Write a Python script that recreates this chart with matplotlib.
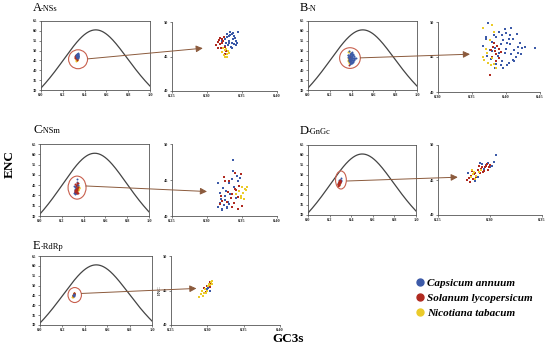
import numpy as np
import matplotlib
matplotlib.use("Agg")
import matplotlib.pyplot as plt
from matplotlib.patches import Ellipse, ConnectionPatch
from matplotlib.lines import Line2D

SERIF = ["Liberation Serif", "DejaVu Serif"]

species = ["Capsicum annuum", "Solanum lycopersicum", "Nicotiana tabacum"]
colors = ["#3C5AA8", "#B02A20", "#EBCB2A"]

panel_titles = ["A", "B", "C", "D", "E"]
panel_genes = ["-NSs", "-N", "-NSm", "-GnGc", "-RdRp"]

# ---- GC3s / ENC values per panel per species ----
A_cap_x = [0.322, 0.325, 0.327, 0.329, 0.331, 0.333, 0.335, 0.337, 0.339, 0.341, 0.343, 0.326,
           0.330, 0.334, 0.338, 0.342, 0.328, 0.332, 0.336, 0.340, 0.331, 0.335, 0.333, 0.337, 0.344]
A_cap_y = [47.2, 47.6, 46.9, 47.8, 47.3, 48.1, 47.0, 47.5, 46.8, 47.2, 47.0, 46.5,
           46.6, 46.4, 47.9, 46.6, 48.3, 46.9, 48.2, 47.7, 47.9, 46.3, 48.5, 48.4, 48.6]
A_sol_x = [0.313, 0.315, 0.317, 0.319, 0.321, 0.323, 0.325, 0.316, 0.320, 0.324, 0.318, 0.322, 0.327, 0.326]
A_sol_y = [46.6, 47.1, 47.4, 46.8, 47.6, 47.2, 46.4, 46.2, 46.3, 47.8, 47.7, 46.9, 45.8, 45.4]
A_nic_x = [0.322, 0.324, 0.326, 0.328, 0.330, 0.325, 0.327, 0.329, 0.331, 0.323]
A_nic_y = [45.6, 45.2, 45.9, 45.4, 45.8, 44.9, 46.1, 45.0, 45.5, 46.2]

B_cap_x = [0.366, 0.370, 0.372, 0.376, 0.378, 0.380, 0.382, 0.384, 0.386, 0.388, 0.390, 0.392,
           0.394, 0.396, 0.398, 0.400, 0.402, 0.404, 0.406, 0.408, 0.410, 0.412, 0.414, 0.416,
           0.418, 0.420, 0.424, 0.428, 0.443, 0.386, 0.390, 0.394, 0.398, 0.402, 0.406, 0.410,
           0.396, 0.400, 0.404, 0.392, 0.412, 0.380, 0.384, 0.374, 0.408, 0.418, 0.370, 0.422]
B_cap_y = [46.6, 47.6, 45.2, 46.0, 44.7, 47.2, 48.1, 46.3, 47.8, 45.1, 48.6, 46.9,
           44.5, 47.4, 45.6, 46.2, 47.0, 44.2, 46.8, 45.4, 47.6, 46.0, 45.0, 48.3,
           46.4, 47.0, 46.3, 46.4, 46.3, 44.0, 45.6, 48.2, 49.0, 43.8, 48.1, 44.6,
           43.5, 48.4, 47.6, 43.9, 44.4, 45.9, 43.4, 49.9, 49.2, 45.6, 47.9, 45.4]
B_sol_x = [0.378, 0.381, 0.384, 0.387, 0.390, 0.383, 0.386, 0.389, 0.392, 0.380, 0.385, 0.376]
B_sol_y = [46.0, 46.4, 45.8, 46.6, 46.1, 47.0, 45.4, 44.8, 45.7, 45.0, 44.4, 42.5]
B_nic_x = [0.366, 0.368, 0.370, 0.372, 0.374, 0.376, 0.378, 0.380, 0.366, 0.380, 0.382, 0.385, 0.383]
B_nic_y = [45.0, 44.6, 46.2, 45.6, 44.2, 47.4, 43.8, 44.9, 49.1, 49.6, 44.0, 43.5, 48.6]

C_cap_x = [0.316, 0.318, 0.320, 0.322, 0.324, 0.326, 0.328, 0.330, 0.332, 0.319, 0.323, 0.327, 0.331,
           0.335, 0.339, 0.343, 0.347, 0.321, 0.325, 0.329, 0.333, 0.337, 0.341, 0.345, 0.315, 0.337]
C_cap_y = [41.2, 41.8, 42.4, 41.0, 41.5, 42.8, 41.3, 42.0, 41.6, 43.2, 43.9, 43.5, 44.6,
           45.2, 44.0, 45.6, 45.3, 40.9, 42.2, 41.1, 43.0, 46.3, 42.5, 44.8, 44.6, 47.8]
C_sol_x = [0.318, 0.322, 0.326, 0.330, 0.334, 0.338, 0.342, 0.346, 0.350, 0.324, 0.328, 0.332,
           0.336, 0.340, 0.344, 0.348, 0.320, 0.336, 0.344, 0.340]
C_sol_y = [41.6, 42.1, 44.8, 43.3, 42.5, 41.8, 43.6, 44.2, 41.4, 45.4, 42.0, 44.9,
           43.0, 46.0, 42.6, 45.8, 42.8, 41.2, 41.0, 43.8]
C_nic_x = [0.346, 0.348, 0.350, 0.352, 0.354, 0.356, 0.349, 0.353, 0.357, 0.342]
C_nic_y = [43.5, 42.8, 44.0, 43.2, 43.8, 43.6, 42.5, 42.4, 44.0, 43.1]

D_cap_x = [0.279, 0.288, 0.292, 0.296, 0.298, 0.300, 0.302, 0.304, 0.306, 0.294, 0.290, 0.286]
D_cap_y = [46.0, 45.5, 47.3, 47.1, 47.5, 46.9, 47.0, 47.6, 48.6, 46.6, 47.4, 44.9]
D_sol_x = [0.278, 0.280, 0.282, 0.284, 0.286, 0.288, 0.290, 0.292, 0.294, 0.296, 0.298, 0.300,
           0.283, 0.287, 0.291, 0.295, 0.299, 0.281, 0.285, 0.289, 0.293, 0.297]
D_sol_y = [45.0, 45.3, 45.6, 45.1, 46.0, 46.4, 46.0, 46.8, 46.3, 47.0, 46.5, 47.2,
           46.3, 45.5, 46.6, 46.9, 46.8, 44.7, 45.9, 47.0, 46.2, 47.3]
D_nic_x = [0.282, 0.284, 0.285, 0.287, 0.289, 0.291, 0.286, 0.283]
D_nic_y = [45.5, 45.8, 46.2, 45.6, 46.1, 46.5, 45.2, 46.4]

E_cap_x = [0.299, 0.301, 0.303, 0.300, 0.302]
E_cap_y = [45.2, 45.4, 45.0, 44.9, 45.6]
E_sol_x = [0.296, 0.300, 0.303, 0.305, 0.298, 0.304]
E_sol_y = [45.3, 45.7, 45.5, 46.0, 44.8, 46.3]
E_nic_x = [0.289, 0.291, 0.293, 0.295, 0.297, 0.299, 0.301, 0.303, 0.305, 0.307, 0.294, 0.298, 0.302, 0.306]
E_nic_y = [44.1, 44.5, 44.9, 44.6, 45.2, 45.0, 45.6, 45.8, 46.2, 46.4, 44.2, 44.6, 46.0, 45.9]

panels_data = [
    [(A_cap_x, A_cap_y), (A_sol_x, A_sol_y), (A_nic_x, A_nic_y)],
    [(B_cap_x, B_cap_y), (B_sol_x, B_sol_y), (B_nic_x, B_nic_y)],
    [(C_cap_x, C_cap_y), (C_sol_x, C_sol_y), (C_nic_x, C_nic_y)],
    [(D_cap_x, D_cap_y), (D_sol_x, D_sol_y), (D_nic_x, D_nic_y)],
    [(E_cap_x, E_cap_y), (E_sol_x, E_sol_y), (E_nic_x, E_nic_y)],
]

# zoom x ranges / ticks
zoom_xticks = [
    [0.25, 0.30, 0.35, 0.40],
    [0.30, 0.35, 0.40, 0.45],
    [0.25, 0.30, 0.35, 0.40],
    [0.25, 0.30, 0.35],
    [0.25, 0.30, 0.35, 0.40],
]
zoom_yticks = [40, 45, 50]
left_xticks = [0.0, 0.2, 0.4, 0.6, 0.8, 1.0]
left_yticks = [30, 35, 40, 45, 50, 55, 60, 65]

# circle (center x, center y, width, height) and arrow endpoints
circles = [(0.34, 45.6, 0.174, 9.6), (0.385, 46.2, 0.19, 10.5), (0.34, 43.8, 0.165, 11.2),
           (0.305, 47.5, 0.10, 9.0), (0.31, 45.2, 0.12, 7.6)]
arrow_start = [(0.43, 45.8), (0.48, 46.3), (0.42, 44.6), (0.36, 47.0), (0.37, 46.0)]
arrow_end = [(0.294, 46.2), (0.347, 45.4), (0.30, 43.4), (0.269, 45.4), (0.285, 45.3)]
left_order = [[2, 1, 0], [2, 1, 0], [0, 2, 1], [0, 2, 1], [2, 1, 0]]

W, H = 550, 353
fig = plt.figure(figsize=(5.5, 3.53), dpi=100)
fig.patch.set_facecolor("white")

def fbox(x0, y0, x1, y1):
    return [x0 / W, 1 - y1 / H, (x1 - x0) / W, (y1 - y0) / H]

left_boxes = [(41, 21, 150, 90), (308, 21, 417, 90), (40, 144, 149, 216), (308, 145, 416, 215), (40, 256, 152, 325)]
right_boxes = [(172, 22, 277, 91), (438, 22, 540, 92), (172, 144, 277, 216), (438, 145, 542, 215), (171, 256, 280, 325)]
title_pos = [(33, 11), (300, 11), (33, 133), (300, 134), (33, 249)]

s_grid = np.linspace(0, 1, 200)
enc_curve = 2 + s_grid + 29 / (s_grid ** 2 + (1 - s_grid) ** 2)

spine_c = "#555555"
arrow_c = "#8B5A3C"
circ_c = "#C8604E"

def style_ticks(ax):
    ax.tick_params(axis="both", labelsize=3.2, length=1.5, width=0.5, pad=1, colors=spine_c, labelcolor="#222222")
    for lab in ax.get_xticklabels() + ax.get_yticklabels():
        lab.set_fontfamily(SERIF)
        lab.set_fontweight("bold")

for i in range(5):
    axL = fig.add_axes(fbox(*left_boxes[i]))
    axR = fig.add_axes(fbox(*right_boxes[i]))
    # left
    axL.plot(s_grid, enc_curve, color="#444444", lw=0.9)
    for k in left_order[i]:
        xs, ys = panels_data[i][k]
        axL.scatter(xs, ys, s=2.0, color=colors[k], lw=0, zorder=3)
    cx, cy, cw, ch = circles[i]
    axL.add_patch(Ellipse((cx, cy), cw, ch, fill=False, ec=circ_c, lw=0.8, zorder=4))
    axL.set_xlim(0, 1)
    axL.set_ylim(30, 65)
    axL.set_xticks(left_xticks)
    axL.set_xticklabels([f"{v:.1f}" for v in left_xticks])
    axL.set_yticks(left_yticks)
    for sp in axL.spines.values():
        sp.set_color(spine_c)
        sp.set_linewidth(0.6)
    style_ticks(axL)
    # right
    for k in range(3):
        xs, ys = panels_data[i][k]
        axR.scatter(xs, ys, s=4.0, marker="s", color=colors[k], lw=0, zorder=3)
    xt = zoom_xticks[i]
    axR.set_xlim(xt[0], xt[-1])
    axR.set_ylim(40, 50)
    axR.set_xticks(xt)
    axR.set_xticklabels([f"{v:.2f}" for v in xt])
    axR.set_yticks(zoom_yticks)
    axR.spines["top"].set_visible(False)
    axR.spines["right"].set_visible(False)
    for sp in ("left", "bottom"):
        axR.spines[sp].set_color(spine_c)
        axR.spines[sp].set_linewidth(0.6)
    axR.patch.set_alpha(0)
    style_ticks(axR)
    if i == 4:
        axR.set_ylabel("ENC", fontsize=3.5, fontfamily=SERIF, labelpad=1)
    con = ConnectionPatch(xyA=arrow_start[i], coordsA=axL.transData,
                          xyB=arrow_end[i], coordsB=axR.transData,
                          arrowstyle="-|>,head_length=0.4,head_width=0.2",
                          color=arrow_c, lw=0.7, zorder=5)
    fig.add_artist(con)
    # titles
    tx, ty = title_pos[i]
    fig.text(tx / W, 1 - ty / H, panel_titles[i], fontsize=9, fontfamily=SERIF, va="baseline", ha="left")
    fig.text((tx + 7.5) / W, 1 - ty / H, panel_genes[i], fontsize=6, fontfamily=SERIF, va="baseline", ha="left")

fig.text(10 / W, 1 - 164 / H, "ENC", rotation=90, fontsize=9.5, fontweight="bold",
         fontfamily=SERIF, ha="center", va="center")
fig.text(288 / W, 1 - 339 / H, "GC3s", fontsize=9.5, fontweight="bold",
         fontfamily=SERIF, ha="center", va="center")

handles = [Line2D([], [], marker="o", ls="", color=c, markersize=5) for c in colors]
fig.legend(handles, species, loc="upper left", bbox_to_anchor=(410 / W, 1 - 274 / H),
           frameon=False, handletextpad=0.1, labelspacing=0.45, borderaxespad=0, handlelength=1.0,
           prop={"family": SERIF, "weight": "bold", "style": "italic", "size": 8})

fig.savefig("out.png", dpi=100)
